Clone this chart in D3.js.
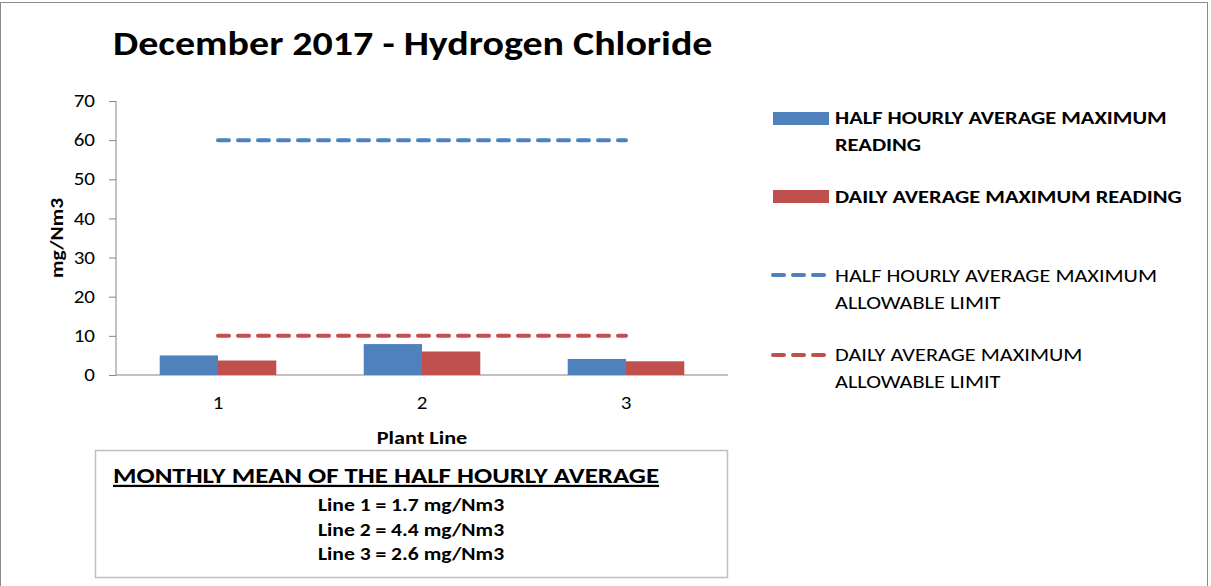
<!DOCTYPE html>
<html><head><meta charset="utf-8">
<script src="https://cdn.jsdelivr.net/npm/d3@7"></script>
<style>
body{margin:0;background:#fff;}
text{font-family:Carlito, Calibri, Lato, "Open Sans", sans-serif;}
</style></head>
<body><svg id="c" width="1211" height="586"></svg>
<script>
const categories = ["1","2","3"];
const halfHourlyMax = [5.0, 7.9, 4.1];
const dailyMax = [3.7, 6.0, 3.5];
const halfHourlyLimit = [60, 60, 60];
const dailyLimit = [10, 10, 10];
const yTicks = [0,10,20,30,40,50,60,70];
const chartTitle = "December 2017 - Hydrogen Chloride";
const legendLabels = [["HALF HOURLY AVERAGE MAXIMUM","READING"],["DAILY AVERAGE MAXIMUM READING"],["HALF HOURLY AVERAGE MAXIMUM","ALLOWABLE LIMIT"],["DAILY AVERAGE MAXIMUM","ALLOWABLE LIMIT"]];
const boxHeading = "MONTHLY MEAN OF THE HALF HOURLY AVERAGE";
const monthlyMeans = ["Line 1 = 1.7 mg/Nm3","Line 2 = 4.4 mg/Nm3","Line 3 = 2.6 mg/Nm3"];

const blue="#4f81bd", red="#c0504d";
const SX = 1.2; // horizontal stretch of the reference's text
const svg=d3.select("#c");

function addText(parent, x, y, str, o={}){
  const g=parent.append("g").attr("transform",`translate(${x},${y})${o.rot?` rotate(${o.rot})`:""} scale(${SX},1)`);
  const t=g.append("text").attr("font-size",o.size||18).attr("font-weight",o.bold?"bold":"normal")
    .attr("text-anchor",o.anchor||"start").attr("fill","#000").text(str);
  if(o.underline) t.attr("text-decoration","underline");
  return t;
}

// outer frame
svg.append("rect").attr("x",0.5).attr("y",2.5).attr("width",1207).attr("height",600).attr("fill","none").attr("stroke","#8c8c8c");

addText(svg,113,55,chartTitle,{size:33.3,bold:true});

const x=d3.scaleBand().domain(categories).range([116,728]);
const y=d3.scaleLinear().domain([0,70]).range([375,101]);
const barW = x.bandwidth()/3.5;

const g=svg.append("g");
// y axis
const ya=g.append("g").attr("transform","translate(116,0)").call(d3.axisLeft(y).tickValues(yTicks).tickSize(7).tickPadding(10.5));
ya.select(".domain").attr("stroke","#868686").attr("d","M0,101V375");
ya.selectAll(".tick line").attr("stroke","#868686");
ya.selectAll(".tick text").attr("font-size",17.5).attr("fill","#000").attr("font-family","Carlito, Calibri, Lato, sans-serif").attr("transform",`scale(${SX},1)`);
// x axis
const xa=g.append("g").attr("transform","translate(0,375)").call(d3.axisBottom(x).tickSize(0).tickPadding(22));
xa.select(".domain").attr("stroke","#868686").attr("d","M116,0H728");
xa.selectAll(".tick text").attr("font-size",17.5).attr("fill","#000").attr("font-family","Carlito, Calibri, Lato, sans-serif").attr("transform",`scale(${SX},1)`);

// bars
g.selectAll(".b1").data(categories).join("rect").attr("class","b1").attr("fill",blue)
 .attr("x",d=>x(d)+x.bandwidth()/2-barW).attr("width",barW)
 .attr("y",(d,i)=>y(halfHourlyMax[i])).attr("height",(d,i)=>y(0)-y(halfHourlyMax[i]));
g.selectAll(".b2").data(categories).join("rect").attr("class","b2").attr("fill",red)
 .attr("x",d=>x(d)+x.bandwidth()/2).attr("width",barW)
 .attr("y",(d,i)=>y(dailyMax[i])).attr("height",(d,i)=>y(0)-y(dailyMax[i]));

const line=d3.line().x((d,i)=>x(categories[i])+x.bandwidth()/2).y(d=>y(d));
g.append("path").datum(halfHourlyLimit).attr("d",line).attr("fill","none").attr("stroke",blue).attr("stroke-width",4).attr("stroke-dasharray","11,9").attr("stroke-linecap","round");
g.append("path").datum(dailyLimit).attr("d",line).attr("fill","none").attr("stroke",red).attr("stroke-width",4).attr("stroke-dasharray","11,9").attr("stroke-linecap","round");

// axis titles
addText(svg,63,238,"mg/Nm3",{size:17.9,bold:true,anchor:"middle",rot:-90});
addText(svg,422,444,"Plant Line",{size:18.5,bold:true,anchor:"middle"});

// legend
const lg=svg.append("g");
lg.append("rect").attr("x",773).attr("y",112).attr("width",56).attr("height",13).attr("fill",blue);
lg.append("rect").attr("x",773).attr("y",190).attr("width",56).attr("height",13).attr("fill",red);
lg.append("line").attr("x1",773).attr("x2",824).attr("y1",275).attr("y2",275).attr("stroke",blue).attr("stroke-width",4).attr("stroke-dasharray","11,9").attr("stroke-linecap","round");
lg.append("line").attr("x1",773).attr("x2",824).attr("y1",355).attr("y2",355).attr("stroke",red).attr("stroke-width",4).attr("stroke-dasharray","11,9").attr("stroke-linecap","round");
const legY=[124,203,282,361], legBold=[true,true,false,false];
legendLabels.forEach((L,i)=>{
  L.forEach((s,j)=>addText(lg,835,legY[i]+j*26.5,s,{size:legBold[i]?18.7:18.6,bold:legBold[i]}));
});

// box
svg.append("rect").attr("x",95.5).attr("y",450.5).attr("width",632).attr("height",127).attr("fill","#fff").attr("stroke","#bfbfbf").attr("stroke-width",1.5);
addText(svg,113,483,boxHeading,{size:22.4,bold:true,underline:true});
monthlyMeans.forEach((s,i)=>addText(svg,411,511+i*24.5,s,{size:18,bold:true,anchor:"middle"}));
</script></body></html>
